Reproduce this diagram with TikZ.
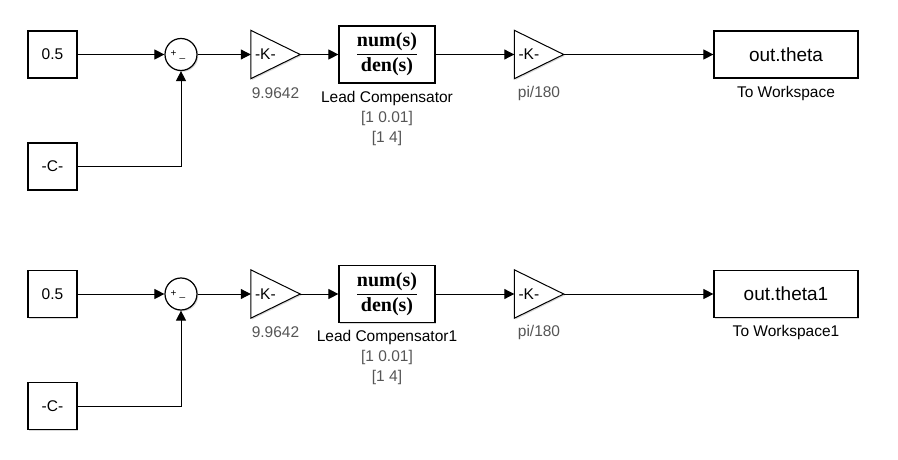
\documentclass[tikz,border=0pt]{standalone}
\usepackage{fontspec}
\setmainfont{Liberation Sans}
\newfontfamily\serifface{Liberation Serif}
\usetikzlibrary{arrows.meta,shadows}
\definecolor{lblgray}{RGB}{85,85,85}
\tikzset{
  blk/.style={draw, line width=1.2pt, fill=white, inner sep=0pt,
    drop shadow={shadow xshift=1.3pt, shadow yshift=-1.3pt, opacity=0.3}},
  ghost/.style={inner sep=0pt, minimum width=49pt, minimum height=48pt},
  tri/.style={draw, line width=1pt, fill=white,
    drop shadow={shadow xshift=1.3pt, shadow yshift=-1.3pt, opacity=0.3}},
  wire/.style={line width=1pt, -{Triangle[length=10pt,width=10pt]}},
  txt/.style={font=\fontsize{15.5}{18}\selectfont, inner sep=0pt},
  big/.style={font=\fontsize{19}{22}\selectfont, inner sep=0pt},
  frac/.style={font=\serifface\bfseries\fontsize{20}{22}\selectfont, inner sep=0pt},
  lbl/.style={font=\fontsize{15.5}{18}\selectfont, inner sep=0pt},
  glbl/.style={lbl, text=lblgray},
  sgn/.style={font=\fontsize{10}{12}\selectfont, inner sep=0pt},
}
\begin{document}
\begin{tikzpicture}[x=1pt, y=-1pt]
\useasboundingbox (0,0) rectangle (898,460);
\foreach \r/\oy/\suf in {a/0/, b/239.5/1} {
  \begin{scope}[yshift=-\oy pt]
    % sources
    \node[blk, minimum width=49pt, minimum height=47pt, txt] (c\r) at (52.5,54.5) {0.5};
    \node[blk, minimum width=49pt, minimum height=47pt, txt] (k\r) at (52.5,166.5) {-C-};
    % sum
    \node[blk, circle, minimum size=32pt] (s\r) at (181,54.5) {};
    \node[sgn] (sp\r) at (173.5,54) {+};
    \node[sgn] (sm\r) at (182.5,58) {\_};
    % gain 1
    \node[ghost] (g\r) at (275.5,54.5) {};
    \path[tri] (g\r.north west) -- (g\r.east) -- (g\r.south west) -- cycle;
    \node[txt, anchor=west] (gt\r) at ([xshift=4pt]g\r.west) {-K-};
    \node[glbl] (gl\r) at (275.5,93) {9.9642};
    % lead compensator
    \node[blk, minimum width=96pt, minimum height=57pt] (l\r) at (387,54.5) {};
    \node[frac] (ln\r) at (387,42) {num(s)};
    \node[frac] (ld\r) at (387,67) {den(s)};
    \draw[line width=1pt] ([xshift=-30pt]l\r.center) -- ([xshift=30pt]l\r.center);
    \node[lbl] (ll\r) at (387,98) {Lead Compensator\suf};
    \node[glbl] (lp\r) at (387,118) {[1 0.01]};
    \node[glbl] (lq\r) at (387,138) {[1 4]};
    % gain 2
    \node[ghost] (h\r) at (539,54.5) {};
    \path[tri] (h\r.north west) -- (h\r.east) -- (h\r.south west) -- cycle;
    \node[txt, anchor=west] (ht\r) at ([xshift=4pt]h\r.west) {-K-};
    \node[glbl] (hl\r) at (539,93) {pi/180};
    % to workspace
    \node[blk, minimum width=144pt, minimum height=47pt, big] (w\r) at (786,54.5) {out.theta\suf};
    \node[lbl] (wl\r) at (786,93) {To Workspace\suf};
    % wires
    \draw[wire] (c\r.east) -- (s\r.west);
    \draw[wire] (k\r.east) -| (s\r.south);
    \draw[wire] (s\r.east) -- (g\r.west);
    \draw[wire] (g\r.east) -- (l\r.west);
    \draw[wire] (l\r.east) -- (h\r.west);
    \draw[wire] (h\r.east) -- (w\r.west);
  \end{scope}
}
\end{tikzpicture}
\end{document}
